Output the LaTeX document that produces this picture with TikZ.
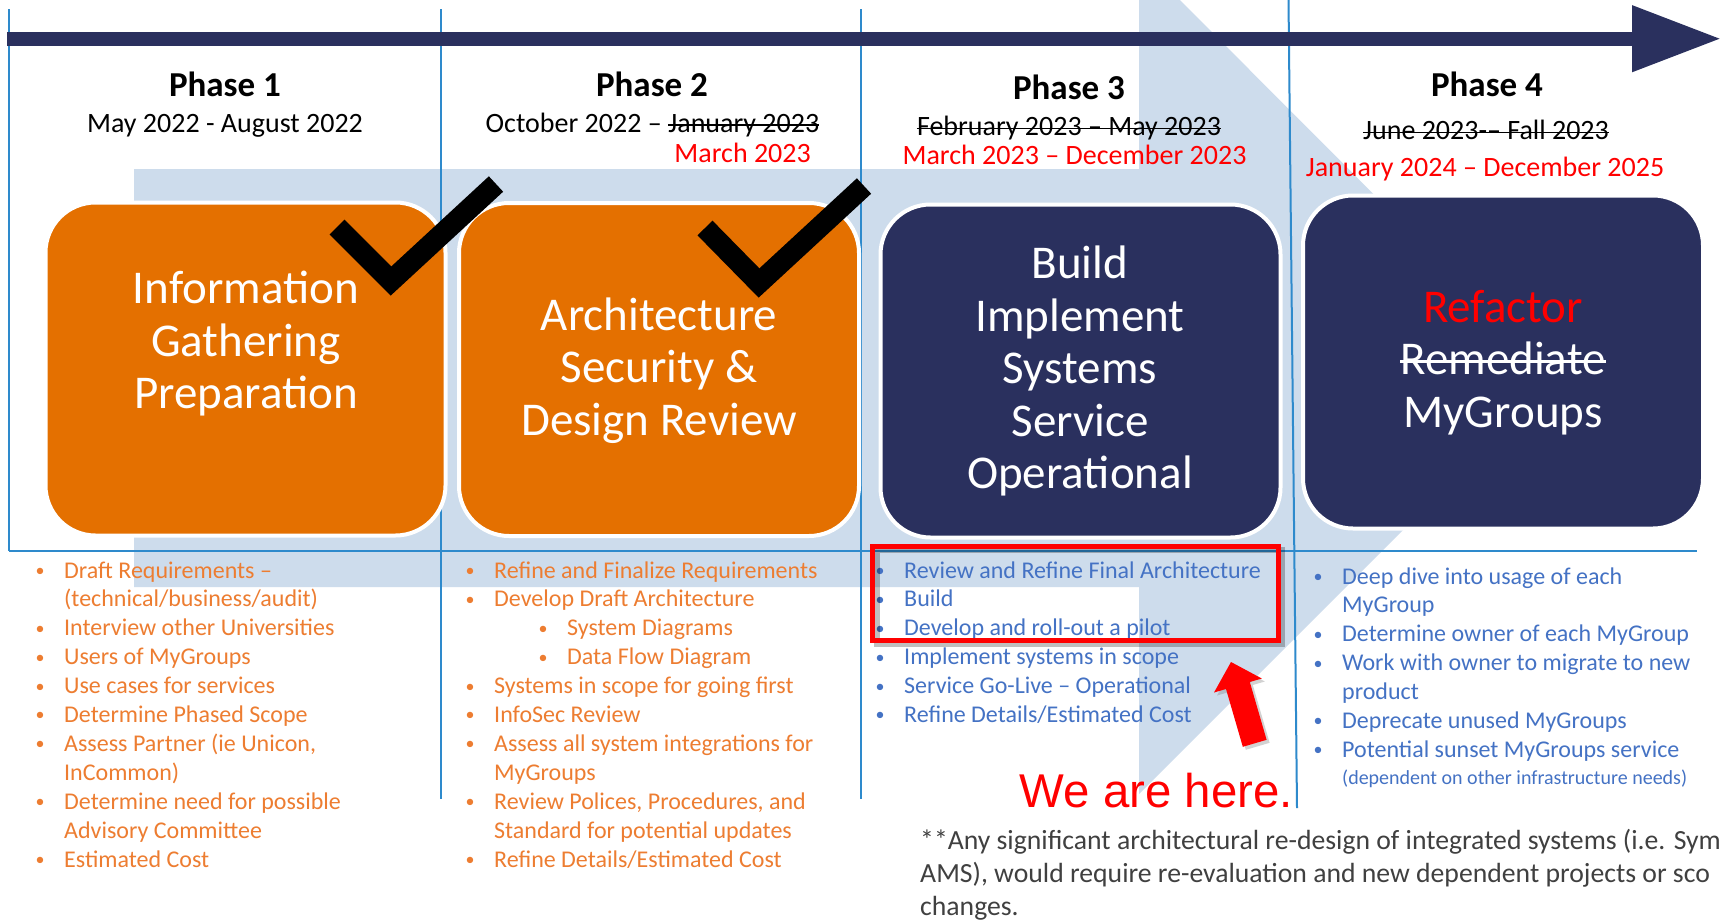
\documentclass[tikz,border=0pt]{standalone}
\usepackage{fontspec}
\setmainfont{Carlito}
\newfontfamily\arialfont{Liberation Sans}
\usetikzlibrary{shadows,arrows.meta,calc}
\newcommand{\phbul}{\makebox[30pt][l]{\hspace{1.5pt}\raisebox{1.6pt}{\fontsize{18}{18}\selectfont •}}}
\newcommand{\phgap}{\hspace*{30pt}}

\begin{document}
\begin{tikzpicture}[x=1pt,y=1pt,yscale=-1,xscale=1,
  phasetitle/.style={font=\fontsize{35}{42}\selectfont\bfseries, inner sep=0pt, anchor=base},
  phasedate/.style={font=\fontsize{28}{33}\selectfont, inner sep=0pt, anchor=base},
  newdate/.style={phasedate, text={rgb, 255:red, 255; green, 0; blue, 0 }},
  strikeline/.style={draw=black, line width=1.8pt},
  phasebox/.style={rectangle, rounded corners=50pt, draw=white, line width=4pt, minimum width=400pt, minimum height=333pt, inner sep=0pt},
  donebox/.style={phasebox, fill={rgb, 255:red, 228; green, 112; blue, 0 }},
  todobox/.style={phasebox, fill={rgb, 255:red, 42; green, 48; blue, 94 }},
  boxtext/.style={font=\fontsize{47}{52.5}\selectfont, text=white, align=center, inner sep=0pt, anchor=base},
  oitem/.style={font=\fontsize{24}{28.9}\selectfont, text={rgb, 255:red, 237; green, 125; blue, 49 }, align=left, inner sep=0pt, anchor=base west},
  bitem/.style={oitem, text={rgb, 255:red, 68; green, 114; blue, 196 }},
  gridline/.style={draw={rgb, 255:red, 46; green, 138; blue, 204 }, line width=2pt},
  checkmark/.style={draw=black, line width=21pt},
  timeline/.style={draw={rgb, 255:red, 42; green, 48; blue, 94 }, line width=14pt, -{Triangle[length=89pt,width=63pt]}}
]
\fill[white] (0,0) rectangle (1721,921);
\useasboundingbox (0,0) rectangle (1721,921);

%Shape: Chevron
\path[fill={rgb, 255:red, 205; green, 220; blue, 236 }] (134,169) -- (1139,169) -- (1139,-41) -- (1556,377) -- (1139,794) -- (1139,587) -- (134,587) -- cycle ;

%Straight Lines
\draw[gridline] (9,9) -- (9,551) ;
\draw[gridline] (440.5,9) -- (440.5,799) ;
\draw[gridline] (861,9) -- (861,799) ;
\draw[gridline] (1288.5,0) -- (1297,808) ;
\draw[gridline] (9,551) -- (1697,551) ;

%Timeline arrow
\coordinate (tl0) at (7,38.7) ;
\coordinate (tl1) at (1721,38.7) ;
\draw[timeline] (tl0) -- (tl1) ;

%Shape: Rounded Rect
\node[donebox] (box1) at (245.5,369) {} ;
\node[donebox] (box2) at (659,369.5) {} ;
\node[todobox] (box3) at (1080.5,371) {} ;
\node[todobox] (box4) at (1503,362) {} ;

% Text Node (anchored on the last line)
\node[boxtext] (box1txt) at (246,408.6) {Information\\Gathering\\Preparation} ;
\node[boxtext] (box2txt) at (659,435) {Architecture\\Security \&\\Design Review} ;
\node[boxtext] (box3txt) at (1080,488.6) {Build\\Implement\\Systems\\Service\\Operational} ;
\node[boxtext, text={rgb, 255:red, 255; green, 0; blue, 0 }] (box4top) at (1503,322) {Refactor} ;
\node[boxtext] (box4mid) at (1503,374.5) {Remediate} ;
\node[boxtext] (box4low) at (1503,427) {MyGroups} ;
\draw[strikeline, draw=white, line width=3pt] ($(box4mid.base west)+(0,-13)$) -- ($(box4mid.base east)+(0,-13)$) ;

% Text Node
\node[phasetitle] (p1title) at (225,96.4) {Phase 1} ;
\node[phasedate] (p1date) at (225,132) {May 2022 - August 2022} ;
\node[phasetitle] (p2title) at (652,96.4) {Phase 2} ;
\node[phasedate, anchor=base west] (p2date) at (485.5,132) {October 2022 –} ;
\node[phasedate, anchor=base west] (p2old) at ($(p2date.base east)+(6.3,0)$) {January 2023} ;
\node[newdate, anchor=base east] (p2new) at (811,162.5) {March 2023} ;
\node[phasetitle] (p3title) at (1069,99) {Phase 3} ;
\node[phasedate] (p3old) at (1069,135.5) {February 2023 – May 2023} ;
\node[newdate] (p3new) at (1074.5,164) {March 2023 – December 2023} ;
\node[phasetitle] (p4title) at (1487,96.4) {Phase 4} ;
\node[phasedate] (p4old) at (1486,139.5) {June 2023-– Fall 2023} ;
\node[newdate] (p4new) at (1485,176) {January 2024 – December 2025} ;
\draw[strikeline] ($(p2old.base west)+(0,-7)$) -- ($(p2old.base east)+(0,-7)$) ;
\draw[strikeline] ($(p3old.base west)+(0,-7)$) -- ($(p3old.base east)+(0,-7)$) ;
\draw[strikeline] ($(p4old.base west)+(0,-7)$) -- ($(p4old.base east)+(0,-7)$) ;

%Check marks
\draw[checkmark] (337,227) -- (391,281) -- (496,184) ;
\draw[checkmark] (705,228) -- (759,283) -- (864,186) ;

% Text Node
\node[oitem] (p1a) at (34,606.9) {\phbul Draft Requirements –\\\phgap(technical/business/audit)} ;
\node[oitem] (p1b) at (34,635.8) {\phbul Interview other Universities} ;
\node[oitem] (p1c) at (34,664.7) {\phbul Users of MyGroups} ;
\node[oitem] (p1d) at (34,693.6) {\phbul Use cases for services} ;
\node[oitem] (p1e) at (34,722.5) {\phbul Determine Phased Scope} ;
\node[oitem] (p1f) at (34,780.3) {\phbul Assess Partner (ie Unicon,\\\phgap InCommon)} ;
\node[oitem] (p1g) at (34,838.1) {\phbul Determine need for possible\\\phgap Advisory Committee} ;
\node[oitem] (p1h) at (34,867) {\phbul Estimated Cost} ;

% Text Node
\node[oitem] (p2a) at (464,578) {\phbul Refine and Finalize Requirements} ;
\node[oitem] (p2b) at (464,606.9) {\phbul Develop Draft Architecture} ;
\node[oitem] (p2c) at (537,635.8) {\phbul System Diagrams} ;
\node[oitem] (p2d) at (537,664.7) {\phbul Data Flow Diagram} ;
\node[oitem] (p2e) at (464,693.6) {\phbul Systems in scope for going first} ;
\node[oitem] (p2f) at (464,722.5) {\phbul InfoSec Review} ;
\node[oitem] (p2g) at (464,780.3) {\phbul Assess all system integrations for\\\phgap MyGroups} ;
\node[oitem] (p2h) at (464,838.1) {\phbul Review Polices, Procedures, and\\\phgap Standard for potential updates} ;
\node[oitem] (p2i) at (464,867) {\phbul Refine Details/Estimated Cost} ;

% Text Node
\node[bitem] (p3a) at (874,578) {\phbul Review and Refine Final Architecture} ;
\node[bitem] (p3b) at (874,606.9) {\phbul Build} ;
\node[bitem] (p3c) at (874,635.8) {\phbul Develop and roll-out a pilot} ;
\node[bitem] (p3d) at (874,664.7) {\phbul Implement systems in scope} ;
\node[bitem] (p3e) at (874,693.6) {\phbul Service Go-Live – Operational} ;
\node[bitem] (p3f) at (874,722.5) {\phbul Refine Details/Estimated Cost} ;

% Text Node
\node[bitem] (p4a) at (1312,612.9) {\phbul Deep dive into usage of each\\\phgap MyGroup} ;
\node[bitem] (p4b) at (1312,641.8) {\phbul Determine owner of each MyGroup} ;
\node[bitem] (p4c) at (1312,699.6) {\phbul Work with owner to migrate to new\\\phgap product} ;
\node[bitem] (p4d) at (1312,728.5) {\phbul Deprecate unused MyGroups} ;
\node[bitem] (p4e) at (1312,757.4) {\phbul Potential sunset MyGroups service} ;
\node[bitem, font=\fontsize{20}{24}\selectfont] (p4f) at (1342,784) {(dependent on other infrastructure needs)} ;

%Shape: Red frame
\draw[black, opacity=0.25, line width=6pt] (876.5,550) rectangle (1282,644) ;
\node[draw={rgb, 255:red, 255; green, 0; blue, 0 }, line width=5pt, minimum width=405.5pt, minimum height=94pt, inner sep=0pt] (pilotframe) at (1075.25,593) {} ;

%Shape: Block arrow
\path[fill={rgb, 255:red, 255; green, 0; blue, 0 }, drop shadow={shadow xshift=3pt, shadow yshift=-3pt, opacity=0.35}] (1231,662) -- (1261.8,678.5) -- (1249.8,682) -- (1266.6,739.8) -- (1242.8,746.8) -- (1226,689) -- (1214,692.5) -- cycle ;

% Text Node
\node[inner sep=0pt, anchor=base east, text={rgb, 255:red, 255; green, 0; blue, 0 }, font=\arialfont\fontsize{47.4}{57}\selectfont] (here) at (1293,807) {We are here.} ;
\node[inner sep=0pt, anchor=base west, align=left, text={rgb, 255:red, 64; green, 64; blue, 64 }, font=\fontsize{27.7}{33}\selectfont] (note) at (920,915.6) {**Any significant architectural re-design of integrated systems (i.e. Sym\\AMS), would require re-evaluation and new dependent projects or sco\\changes.} ;

\end{tikzpicture}
\end{document}
